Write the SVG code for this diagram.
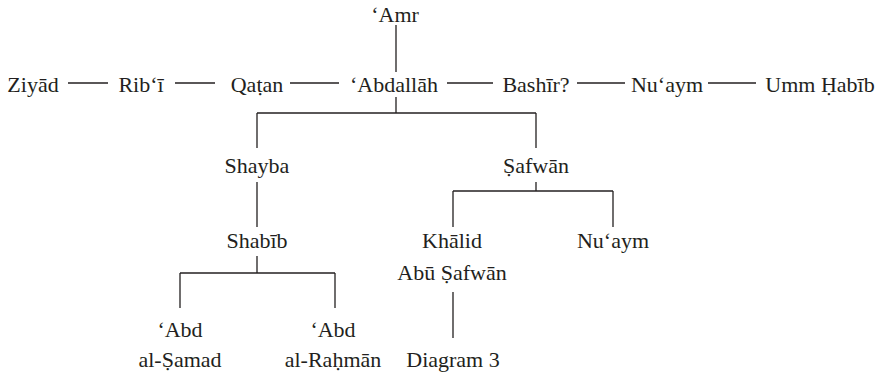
<svg xmlns="http://www.w3.org/2000/svg" width="882" height="375" viewBox="0 0 882 375">
<style>
.t text{font-size:22px;fill:#231f20;text-anchor:middle}
.c line{stroke:#231f20;stroke-width:1.3;fill:none}
</style>
<rect width="882" height="375" fill="#fff"/>
<g class="c" id="connectors">
<line x1="396" y1="25" x2="396" y2="72"/>
<line x1="68" y1="83" x2="108" y2="83"/>
<line x1="175" y1="83" x2="215" y2="83"/>
<line x1="290" y1="83" x2="339" y2="83"/>
<line x1="447" y1="83" x2="493" y2="83"/>
<line x1="577" y1="83" x2="625" y2="83"/>
<line x1="708" y1="83" x2="756" y2="83"/>
<line x1="396" y1="97" x2="396" y2="113"/>
<line x1="257" y1="113" x2="536" y2="113"/>
<line x1="257" y1="113" x2="257" y2="148"/>
<line x1="536" y1="113" x2="536" y2="148"/>
<line x1="257" y1="182" x2="257" y2="227"/>
<line x1="536" y1="182" x2="536" y2="191"/>
<line x1="453" y1="191" x2="613" y2="191"/>
<line x1="453" y1="191" x2="453" y2="227"/>
<line x1="613" y1="191" x2="613" y2="227"/>
<line x1="257" y1="256" x2="257" y2="273"/>
<line x1="180" y1="273" x2="335" y2="273"/>
<line x1="180" y1="273" x2="180" y2="308"/>
<line x1="335" y1="273" x2="335" y2="308"/>
<line x1="453" y1="292" x2="453" y2="338"/>
</g>
<g class="t" font-family="Liberation Serif, serif">
<g id="amr"><text x="395" y="22">‘Amr</text></g>
<g id="ziyad"><text x="33" y="92">Ziyād</text></g>
<g id="ribi"><text x="141" y="92">Rib‘ī</text></g>
<g id="qatan"><text x="257" y="92">Qaṭan</text></g>
<g id="abdallah"><text x="394" y="92">‘Abdallāh</text></g>
<g id="bashir"><text x="536" y="92">Bashīr?</text></g>
<g id="nuaym1"><text x="667" y="92">Nu‘aym</text></g>
<g id="ummhabib"><text x="820" y="92">Umm Ḥabīb</text></g>
<g id="shayba"><text x="257" y="173">Shayba</text></g>
<g id="safwan"><text x="536" y="173">Ṣafwān</text></g>
<g id="shabib"><text x="257" y="248">Shabīb</text></g>
<g id="khalid"><text x="452" y="248">Khālid</text><text x="452" y="280">Abū Ṣafwān</text></g>
<g id="nuaym2"><text x="613" y="248">Nu‘aym</text></g>
<g id="abdalsamad"><text x="180" y="337">‘Abd</text><text x="180" y="367">al-Ṣamad</text></g>
<g id="abdalrahman"><text x="333" y="337">‘Abd</text><text x="333" y="367">al-Raḥmān</text></g>
<g id="diagram3"><text x="453" y="367">Diagram 3</text></g>
</g>
</svg>
